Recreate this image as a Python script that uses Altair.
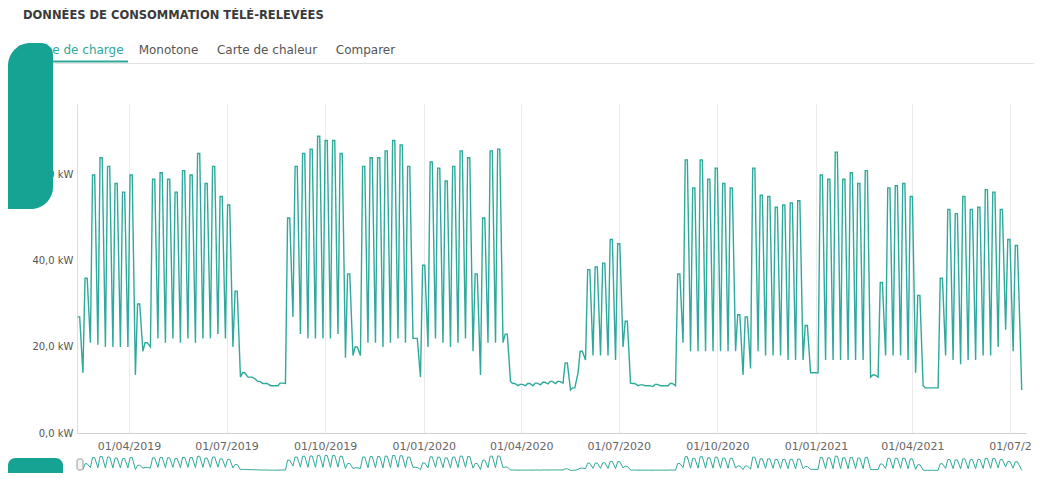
import altair as alt
import pandas as pd

# ---------------- data ----------------
title_text = "DONNÉES DE CONSOMMATION TÉLÉ-RELEVÉES"
tabs = ["Courbe de charge", "Monotone", "Carte de chaleur", "Comparer"]
active_tab = "Courbe de charge"

week_start = "2019-02-11"  # Monday of the first week shown
# working-days level of each week (kW)
weekly_peak_kw = [
    27, 36, 60, 64, 62, 58, 56, 60, 30, 21,
    59, 60.5, 59, 56, 61, 60, 65, 58, 62, 55,
    53, 33, 14, 13, 12, 11.5, 11, 11.6, 50, 62,
    65, 66, 69, 68, 68, 65, 37, 20, 62, 64,
    64, 65.6, 68, 67, 62, 22, 39, 63, 61.6, 58.6,
    62, 65.6, 64, 37, 50, 65.6, 66, 23, 11.5, 11.3,
    11.5, 11.6, 11.8, 12, 12, 16.3, 10.5, 19, 38, 38.6,
    39.5, 45, 44, 26, 11.5, 11.2, 11, 11.3, 11, 11.5,
    37, 63.5, 57, 63.5, 59, 61.6, 58, 57, 27.5, 27,
    61.6, 55.3, 55, 52.5, 53, 53.5, 54, 25, 14, 60,
    59, 65.3, 59, 60.5, 58, 61, 13.5, 35, 57, 57.5,
    58, 55, 32, 10.5, 10.5, 36, 52, 51, 55, 52,
    52.5, 56.6, 56, 52, 45, 43.6,
]
# weekend low of each week (kW)
weekend_low_kw = [
    14, 21, 20.5, 20, 20, 20, 20, 13.5, 19, 20,
    22, 21, 22, 21, 22, 21, 22, 22, 23, 22,
    20, 13, 13, 12.5, 11.5, 11, 11, 11.5, 27, 23,
    22, 22, 22, 22, 23, 17.5, 18, 18, 21, 21,
    20, 21, 22, 21, 22, 13, 20, 22, 21, 20,
    21, 22, 19, 13.5, 21, 21, 21, 12, 11, 11,
    11, 11.2, 11.4, 11.5, 11.6, 10, 14, 17, 18, 18,
    18, 17, 20, 11.6, 11, 11, 10.8, 11, 11, 11,
    21, 19, 19, 19, 19, 19, 19, 19, 13.5, 15,
    19, 18, 18, 18, 17, 17, 17, 14, 14, 17,
    17, 17, 17, 17, 17, 13, 13, 18, 18, 18,
    17, 14, 11, 10.5, 10.5, 18, 17, 16, 17, 17,
    18, 18, 20, 24, 19, 19,
]
last_day = "2021-07-12"
last_kw = 10.0

x_start = (2019, 2, 11, 12)
x_end = (2021, 7, 16, 0)
tick_months = [(2019, 4), (2019, 7), (2019, 10), (2020, 1), (2020, 4),
               (2020, 7), (2020, 10), (2021, 1), (2021, 4), (2021, 7)]
y_ticks = [0, 20, 40, 60]

# ---------------- table ----------------
start = pd.Timestamp(week_start)
fmt = "%Y-%m-%dT%H:%M:%S"
rows = []
for i, (p, lo) in enumerate(zip(weekly_peak_kw, weekend_low_kw)):
    rows.append({"date": (start + pd.Timedelta(days=7 * i + 1)).strftime(fmt), "kw": p})  # Tuesday
    rows.append({"date": (start + pd.Timedelta(days=7 * i + 3)).strftime(fmt), "kw": p})  # Thursday
    rows.append({"date": (start + pd.Timedelta(days=7 * i + 6)).strftime(fmt), "kw": lo})  # Sunday
rows.append({"date": pd.Timestamp(last_day).strftime(fmt), "kw": last_kw})
df = pd.DataFrame(rows)

teal = "#2fa99b"
deco = "#17a394"
FONT = "DejaVu Sans"

x_domain = [alt.DateTime(year=x_start[0], month=x_start[1], date=x_start[2], hours=x_start[3]),
            alt.DateTime(year=x_end[0], month=x_end[1], date=x_end[2], hours=x_end[3])]
tick_vals = [alt.DateTime(year=y, month=m, date=1) for y, m in tick_months]

W = 949
one = pd.DataFrame({"k": [0]})

# ---------------- heading + tabs row ----------------
tabs_df = pd.DataFrame({"tab": tabs})
tab_scale = alt.Scale(type="point", domain=tabs, range=[-7, 288.5], padding=0)
heading = alt.Chart(pd.DataFrame({"t": [title_text]})).mark_text(
    font=FONT, fontSize=11.5, fontWeight="bold", color="#3a3a3a", align="left", baseline="top"
).encode(text="t:N", x=alt.value(-54), y=alt.value(-30))
tab_text = alt.Chart(tabs_df).mark_text(font=FONT, fontSize=12, baseline="middle", align="center").encode(
    x=alt.X("tab:N", scale=tab_scale, axis=None),
    y=alt.value(10),
    text="tab:N",
    color=alt.condition(alt.datum.tab == active_tab, alt.value(teal), alt.value("#555555")),
)
gray_line = alt.Chart(one).mark_rule(color="#e2e2e2", strokeWidth=1).encode(
    x=alt.value(-40), x2=alt.value(957), y=alt.value(23.5)
)
underline = alt.Chart(one).mark_rule(color=teal, strokeWidth=2).encode(
    x=alt.value(-65), x2=alt.value(51), y=alt.value(21.5)
)
tabs_chart = alt.layer(heading, gray_line, underline, tab_text).properties(width=W, height=42)

# ---------------- main chart ----------------
x_enc = alt.X(
    "date:T",
    scale=alt.Scale(domain=x_domain),
    axis=alt.Axis(values=tick_vals, format="%d/%m/%Y", title=None, grid=True, gridColor="#ebebeb",
                  domainColor="#cfcfcf", ticks=False, labelPadding=7, labelFont=FONT,
                  labelFontSize=11, labelColor="#666666", labelOverlap=False,
                  labelExpr="datum.label == '01/07/2021' ? '01/07/2' : datum.label"),
)
y_enc = alt.Y(
    "kw:Q",
    scale=alt.Scale(domain=[0, 76.5], nice=False),
    axis=alt.Axis(values=y_ticks, labelExpr="replace(format(datum.value, '.1f'), '.', ',') + ' kW'",
                  title=None, grid=False, ticks=False, domainColor="#dddddd", labelPadding=4,
                  labelFont=FONT, labelFontSize=10, labelColor="#555555"),
)
line = alt.Chart(df).mark_line(color=teal, strokeWidth=1.4).encode(x=x_enc, y=y_enc)

deco_top = alt.Chart(one).mark_rect(
    color=deco, cornerRadiusTopLeft=26, cornerRadiusTopRight=12, cornerRadiusBottomRight=22
).encode(x=alt.value(-69), x2=alt.value(-24), y=alt.value(-61), y2=alt.value(105))

main_chart = alt.layer(line, deco_top).properties(width=W, height=329)

# ---------------- navigator ----------------
nav_line = alt.Chart(df).mark_line(color=teal, strokeWidth=1).encode(
    x=alt.X("date:T", scale=alt.Scale(domain=x_domain),
            axis=alt.Axis(labels=False, ticks=False, grid=False, title=None, domainColor="#cfcfcf")),
    y=alt.Y("kw:Q", scale=alt.Scale(domain=[0, 70], nice=False), axis=None),
)
deco_bottom = alt.Chart(one).mark_rect(
    color=deco, cornerRadiusTopLeft=14, cornerRadiusTopRight=20
).encode(x=alt.value(-69), x2=alt.value(-14), y=alt.value(3), y2=alt.value(18))
handle = alt.Chart(one).mark_rect(
    fill="#f4f4f4", stroke="#9a9a9a", strokeWidth=1, cornerRadius=2
).encode(x=alt.value(0), x2=alt.value(6), y=alt.value(4), y2=alt.value(15))
nav_chart = alt.layer(nav_line, deco_bottom, handle).properties(width=W, height=18)

chart = alt.vconcat(tabs_chart, main_chart, nav_chart, spacing=22, bounds="flush").properties(
    padding={"left": 0, "top": 2, "right": 0, "bottom": 0},
    background="white",
).configure_view(strokeWidth=0, stroke=None)

chart.save("out.html", embed_options={"renderer": "svg", "actions": False})
